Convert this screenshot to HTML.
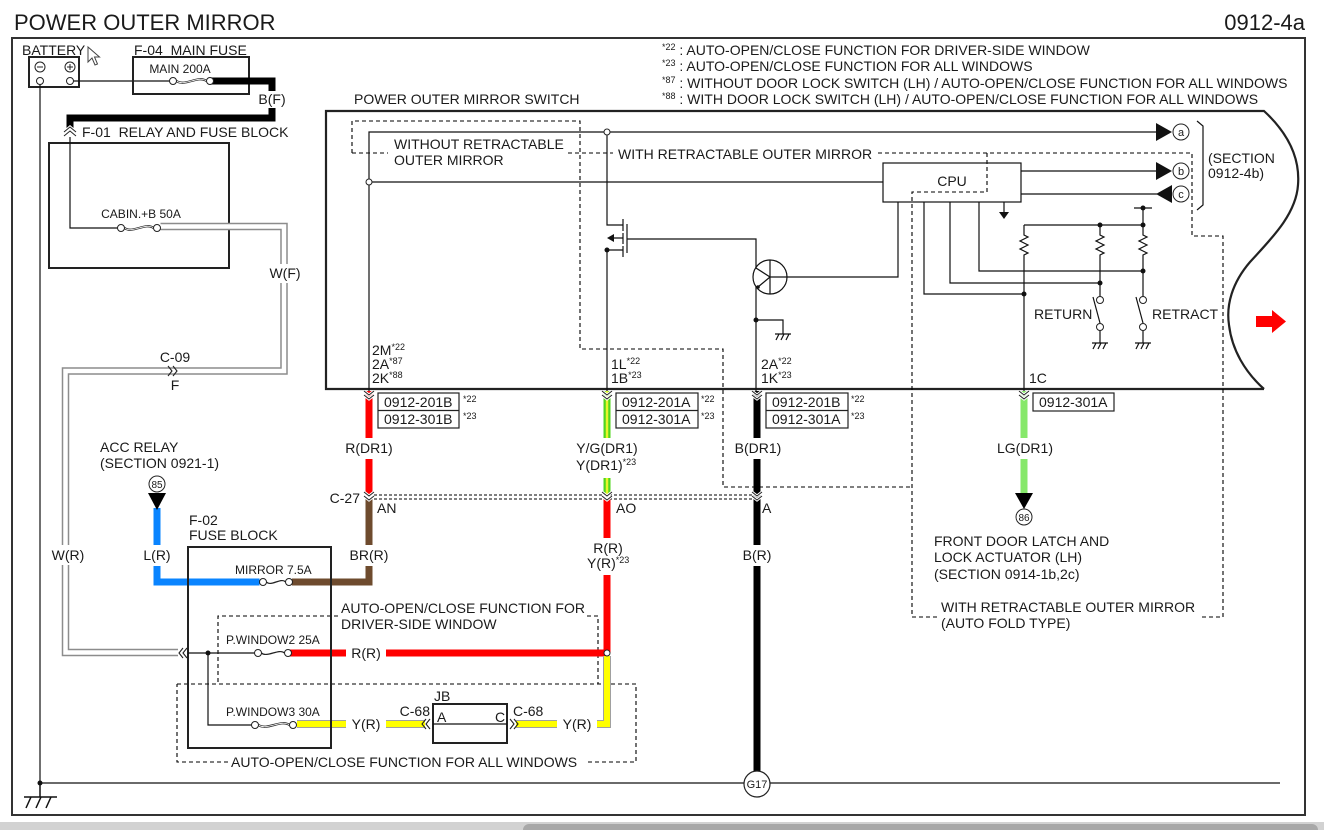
<!DOCTYPE html>
<html><head><meta charset="utf-8"><style>
html,body{margin:0;padding:0;background:#fff;}
svg{display:block;}
text{font-family:"Liberation Sans",Arial,sans-serif;fill:#1a1a1a;}
</style></head><body>
<svg width="1324" height="830" viewBox="0 0 1324 830" xmlns="http://www.w3.org/2000/svg">
<defs>
<g id="chd"><path d="M-5,0 L0,4 L5,0 M-5,4 L0,8 L5,4" stroke="#fff" stroke-width="3" fill="none"/><path d="M-5,0 L0,4 L5,0 M-5,4 L0,8 L5,4" stroke="#222" stroke-width="1" fill="none"/></g>
<g id="gnd"><path d="M-8,0 H8 M-4,0 L-7,6 M1,0 L-2,6 M6,0 L3,6" stroke="#111" stroke-width="1.2" fill="none"/></g>
</defs>
<rect width="1324" height="830" fill="#fff"/>
<rect x="0" y="822" width="1324" height="8" fill="#d2d2d2"/>
<rect x="523" y="824" width="795" height="12" rx="6" fill="#a8a8a8"/>

<text x="14" y="30" font-size="22">POWER OUTER MIRROR</text>
<text x="1305" y="30" font-size="22" text-anchor="end">0912-4a</text>
<rect x="12" y="38" width="1293" height="777" fill="none" stroke="#333" stroke-width="2"/>

<!-- notes -->
<g font-size="14">
<text x="662" y="55"><tspan font-size="9" dy="-5">*22</tspan><tspan dy="5"> : AUTO-OPEN/CLOSE FUNCTION FOR DRIVER-SIDE WINDOW</tspan></text>
<text x="662" y="71"><tspan font-size="9" dy="-5">*23</tspan><tspan dy="5"> : AUTO-OPEN/CLOSE FUNCTION FOR ALL WINDOWS</tspan></text>
<text x="662" y="88"><tspan font-size="9" dy="-5">*87</tspan><tspan dy="5"> : WITHOUT DOOR LOCK SWITCH (LH) / AUTO-OPEN/CLOSE FUNCTION FOR ALL WINDOWS</tspan></text>
<text x="662" y="104"><tspan font-size="9" dy="-5">*88</tspan><tspan dy="5"> : WITH DOOR LOCK SWITCH (LH) / AUTO-OPEN/CLOSE FUNCTION FOR ALL WINDOWS</tspan></text>
</g>

<!-- battery -->
<text x="22" y="55" font-size="14">BATTERY</text>
<rect x="29" y="57" width="50" height="30" fill="none" stroke="#222" stroke-width="2"/>
<circle cx="40" cy="67" r="5" fill="none" stroke="#222"/><path d="M37,67 H43" stroke="#222"/>
<circle cx="70" cy="67" r="5" fill="none" stroke="#222"/><path d="M67,67 H73 M70,64 V70" stroke="#222"/>
<polygon points="88,47 88,62 92,58 95,65 97.5,64 94.5,57 99.5,57" fill="#fff" stroke="#444" stroke-width="1"/>
<path d="M40,84.5 V783" stroke="#111" stroke-width="1.2"/>
<path d="M73.5,81 H169.5" stroke="#111" stroke-width="1.2"/>
<circle cx="40" cy="81" r="3.5" fill="#fff" stroke="#222"/>
<circle cx="70" cy="81" r="3.5" fill="#fff" stroke="#222"/>

<!-- F-04 -->
<text x="134" y="55" font-size="14" xml:space="preserve">F-04  MAIN FUSE</text>
<rect x="133" y="57" width="116" height="37" fill="none" stroke="#222" stroke-width="2"/>
<text x="180" y="73" font-size="12" text-anchor="middle">MAIN 200A</text>
<path d="M210,81 H272 V118 H70 V128" stroke="#000" stroke-width="7" fill="none"/>
<rect x="262" y="91" width="20" height="17" fill="#fff"/>
<text x="272" y="104" font-size="14" text-anchor="middle">B(F)</text>
<path d="M176.5,81 C185,87 198,75 206.5,81" stroke="#222" stroke-width="2.2" fill="none"/>
<path d="M176.5,81 C185,87 198,75 206.5,81" stroke="#fff" stroke-width="0.8" fill="none"/>
<circle cx="173" cy="81" r="3.5" fill="#fff" stroke="#222"/>
<circle cx="210" cy="81" r="3.5" fill="#fff" stroke="#222"/>

<!-- F-01 -->
<path d="M64,132 L70,127 L76,132 M64,136 L70,131 L76,136" stroke="#fff" stroke-width="3" fill="none"/>
<path d="M64,132 L70,127 L76,132 M64,136 L70,131 L76,136" stroke="#222" stroke-width="1" fill="none"/>
<text x="82" y="137" font-size="14" xml:space="preserve">F-01  RELAY AND FUSE BLOCK</text>
<rect x="49" y="143" width="180" height="125" fill="none" stroke="#222" stroke-width="2"/>
<path d="M70,137 V228 H117.5" stroke="#111" stroke-width="1.2" fill="none"/>
<text x="141" y="218" font-size="12" text-anchor="middle">CABIN.+B 50A</text>
<path d="M124.5,228 C132,234 146,222 153.5,228" stroke="#222" stroke-width="2.2" fill="none"/>
<path d="M124.5,228 C132,234 146,222 153.5,228" stroke="#fff" stroke-width="0.8" fill="none"/>

<!-- W wire -->
<path d="M160.5,226.5 H284 V371 H65.5 V652.5 H178" stroke="#8c8c8c" stroke-width="7.5" fill="none"/>
<path d="M160.5,226.5 H284 V371 H65.5 V652.5 H178" stroke="#fff" stroke-width="4.5" fill="none"/>
<circle cx="121" cy="228" r="3.5" fill="#fff" stroke="#222"/>
<circle cx="157" cy="228" r="3.5" fill="#fff" stroke="#222"/>
<rect x="278" y="264" width="13" height="19" fill="#fff"/>
<text x="285" y="278" font-size="14" text-anchor="middle">W(F)</text>
<rect x="59" y="545" width="13" height="20" fill="#fff"/>
<text x="68" y="560" font-size="14" text-anchor="middle">W(R)</text>
<text x="175" y="362" font-size="14" text-anchor="middle">C-09</text>
<text x="175" y="390" font-size="14" text-anchor="middle">F</text>
<path d="M168,366 L172,371 L168,376 M173,366 L177,371 L173,376" stroke="#222" stroke-width="1.1" fill="none"/>

<!-- switch -->
<text x="354" y="104" font-size="14">POWER OUTER MIRROR SWITCH</text>
<path d="M1264,389 H326 V111 H1264 C1290,135 1300,160 1298,185 C1296,215 1270,240 1250,262 C1232,283 1226,305 1229,325 C1232,350 1245,372 1264,389" fill="none" stroke="#222" stroke-width="2.2"/>

<g stroke="#000" stroke-width="1.1" fill="none" stroke-dasharray="4,3">
<path d="M352,153 V121 H580 V349 H723 V487 H913"/>
<path d="M352,153 H388"/>
<path d="M568,153 H613"/>
<path d="M878,153 H1192 V236 H1223 V617 H1201"/>
<path d="M987,153 V192 H912 V617 H937"/>
<path d="M338,616 H218 V684"/>
<path d="M587,616 H598 V684"/>
<path d="M177,684 H636 V762 H585"/>
<path d="M228,762 H177 V684"/>
</g>
<text x="394" y="149" font-size="14">WITHOUT RETRACTABLE</text>
<text x="394" y="165" font-size="14">OUTER MIRROR</text>
<text x="618" y="159" font-size="14">WITH RETRACTABLE OUTER MIRROR</text>

<g stroke="#111" stroke-width="1.2" fill="none">
<path d="M369,391 V132 H1157"/>
<path d="M369,182 H883"/>
<path d="M607,135.5 V225 H623"/>
<path d="M623,219 V231 M623,233 V244 M623,246 V257"/>
<path d="M627,224 V253 M627,239 H756 V268 L770,277"/>
<path d="M607,250 H623 M612,238 H623"/>
<path d="M607,250 V391"/>
<path d="M770,260 V294 M770,277 H898 V202 M770,277 L758,287 M756,287 V391"/>
<path d="M756,320 H783 V334"/>
<path d="M924,202 V294 H1024 M950,202 V283 H1100 M979,202 V271 H1143 M1004,202 V212"/>
<path d="M1024,225 H1143 M1024,225 V235 l4,2 l-8,4 l8,4 l-8,4 l8,4 l-4,2 V391"/>
<path d="M1100,225 V235 l4,2 l-8,4 l8,4 l-8,4 l8,4 l-4,2 V296.5"/>
<path d="M1134,208 H1152 M1143,208 V235 l4,2 l-8,4 l8,4 l-8,4 l8,4 l-4,2 V296.5"/>
<path d="M1093,297 L1100,323 M1136,297 L1143,323"/>
<path d="M1100,330.5 V343 M1143,330.5 V343"/>
<path d="M1021,171 H1157 M1021,194 H1157"/>
<path d="M1197,121 L1203,126 V205 L1197,210"/>
</g>
<polygon points="607,238 614,234 614,242" fill="#111"/>
<circle cx="607" cy="250" r="2.5" fill="#111"/>
<circle cx="758" cy="287" r="1.8" fill="#111"/>
<circle cx="770" cy="277" r="17" fill="none" stroke="#111" stroke-width="1.2"/>
<circle cx="756" cy="320" r="2.5" fill="#111"/>
<use href="#gnd" x="783" y="334"/>
<circle cx="369" cy="182" r="3" fill="#fff" stroke="#222"/>
<circle cx="607" cy="132" r="3" fill="#fff" stroke="#222"/>

<rect x="883" y="163" width="138" height="39" fill="none" stroke="#111" stroke-width="1.2"/>
<text x="952" y="186" font-size="14" text-anchor="middle">CPU</text>
<polygon points="999,212 1009,212 1004,219" fill="#111"/>
<polygon points="1156,123 1172,132 1156,141" fill="#111"/>
<polygon points="1156,162 1172,171 1156,180" fill="#111"/>
<polygon points="1172,185 1172,203 1156,194" fill="#111"/>
<g font-size="11" text-anchor="middle">
<circle cx="1181" cy="132" r="8" fill="#fff" stroke="#222"/><text x="1181" y="136">a</text>
<circle cx="1181" cy="171" r="8" fill="#fff" stroke="#222"/><text x="1181" y="175">b</text>
<circle cx="1181" cy="194" r="8" fill="#fff" stroke="#222"/><text x="1181" y="198">c</text>
</g>
<text x="1208" y="163" font-size="14">(SECTION</text>
<text x="1208" y="178" font-size="14">0912-4b)</text>
<g fill="#111">
<circle cx="1024" cy="294" r="2.5"/><circle cx="1100" cy="283" r="2.5"/><circle cx="1143" cy="271" r="2.5"/>
<circle cx="1100" cy="225" r="2.5"/><circle cx="1143" cy="225" r="2.5"/><circle cx="1143" cy="208" r="2.5"/>
</g>
<circle cx="1100" cy="300" r="3.5" fill="#fff" stroke="#222"/>
<circle cx="1100" cy="327" r="3.5" fill="#fff" stroke="#222"/>
<circle cx="1143" cy="300" r="3.5" fill="#fff" stroke="#222"/>
<circle cx="1143" cy="327" r="3.5" fill="#fff" stroke="#222"/>
<use href="#gnd" x="1100" y="343"/>
<use href="#gnd" x="1143" y="343"/>
<text x="1034" y="319" font-size="14">RETURN</text>
<text x="1152" y="319" font-size="14">RETRACT</text>
<text x="1029" y="383" font-size="14">1C</text>
<polygon points="1256,316 1272,316 1272,310 1286,321.5 1272,333 1272,327 1256,327" fill="#f00"/>

<!-- pin labels -->
<g font-size="14">
<text x="372" y="355">2M<tspan font-size="9" dy="-5">*22</tspan></text>
<text x="372" y="369">2A<tspan font-size="9" dy="-5">*87</tspan></text>
<text x="372" y="383">2K<tspan font-size="9" dy="-5">*88</tspan></text>
<text x="611" y="369">1L<tspan font-size="9" dy="-5">*22</tspan></text>
<text x="611" y="383">1B<tspan font-size="9" dy="-5">*23</tspan></text>
<text x="761" y="369">2A<tspan font-size="9" dy="-5">*22</tspan></text>
<text x="761" y="383">1K<tspan font-size="9" dy="-5">*23</tspan></text>
</g>

<!-- colored wires -->
<path d="M369,391 V495" stroke="#f00" stroke-width="7" fill="none"/>
<path d="M369,499 V582 H292" stroke="#6e4b2e" stroke-width="7" fill="none"/>
<path d="M157,508 V582 H259.5" stroke="#0a84ff" stroke-width="7" fill="none"/>
<path d="M607,391 V495" stroke="#4fd61e" stroke-width="7" fill="none"/>
<path d="M607,391 V495" stroke="#e8f52a" stroke-width="2.5" fill="none"/>
<path d="M607,499 V653 M288,653 H607" stroke="#f00" stroke-width="7" fill="none"/>
<path d="M607,656 V724 H516 M425,724 H297" stroke="#a0a0a0" stroke-width="8" fill="none"/>
<path d="M607,656 V724 H516 M425,724 H297" stroke="#ffff00" stroke-width="6" fill="none"/>
<path d="M757,391 V771" stroke="#000" stroke-width="7" fill="none"/>
<path d="M1024,391 V494" stroke="#86e86a" stroke-width="7" fill="none"/>
<polygon points="1015,493 1033,493 1024,509" fill="#000"/>
<circle cx="1024" cy="517" r="8" fill="#fff" stroke="#222"/>
<text x="1024" y="521" font-size="10" text-anchor="middle">86</text>

<!-- gaps -->
<g fill="#fff">
<rect x="362" y="438" width="14" height="21"/><rect x="362" y="545" width="14" height="21"/>
<rect x="600" y="438" width="14" height="40"/><rect x="600" y="538" width="14" height="37"/>
<rect x="750" y="438" width="14" height="21"/><rect x="750" y="545" width="14" height="21"/>
<rect x="1017" y="438" width="14" height="21"/><rect x="150" y="545" width="14" height="21"/>
<rect x="346" y="648" width="40" height="11"/>
<rect x="346" y="718" width="40" height="12"/><rect x="557" y="718" width="40" height="12"/>
</g>
<g font-size="14" text-anchor="middle">
<text x="369" y="453">R(DR1)</text>
<text x="369" y="560">BR(R)</text>
<text x="607" y="453">Y/G(DR1)</text>
<text x="608" y="553">R(R)</text>
<text x="758" y="453">B(DR1)</text>
<text x="757" y="560">B(R)</text>
<text x="1025" y="453">LG(DR1)</text>
<text x="157" y="560">L(R)</text>
<text x="366" y="658">R(R)</text>
<text x="366" y="729">Y(R)</text>
<text x="577" y="729">Y(R)</text>
</g>
<text x="576" y="470" font-size="14">Y(DR1)<tspan font-size="9" dy="-5">*23</tspan></text>
<text x="587" y="568" font-size="14">Y(R)<tspan font-size="9" dy="-5">*23</tspan></text>

<!-- connector chevrons -->
<use href="#chd" x="369" y="391"/><use href="#chd" x="607" y="391"/><use href="#chd" x="757" y="391"/><use href="#chd" x="1024" y="391"/>
<path d="M374,495 H752 M374,499 H752" stroke="#000" stroke-width="1" stroke-dasharray="3,2" fill="none"/>
<use href="#chd" x="369" y="492"/><use href="#chd" x="607" y="492"/><use href="#chd" x="757" y="492"/>
<text x="360" y="503" font-size="14" text-anchor="end">C-27</text>
<text x="377" y="513" font-size="14">AN</text>
<text x="616" y="513" font-size="14">AO</text>
<text x="762" y="513" font-size="14">A</text>

<!-- connector boxes -->
<g fill="none" stroke="#222" stroke-width="1.2">
<rect x="378" y="393" width="81" height="35"/><path d="M378,410.5 H459"/>
<rect x="616" y="393" width="82" height="35"/><path d="M616,410.5 H698"/>
<rect x="766" y="393" width="82" height="35"/><path d="M766,410.5 H848"/>
<rect x="1033" y="393" width="81" height="18"/>
</g>
<g font-size="14">
<text x="384" y="407">0912-201B</text><text x="384" y="424">0912-301B</text>
<text x="622" y="407">0912-201A</text><text x="622" y="424">0912-301A</text>
<text x="772" y="407">0912-201B</text><text x="772" y="424">0912-301A</text>
<text x="1039" y="407">0912-301A</text>
</g>
<g font-size="9">
<text x="463" y="402">*22</text><text x="463" y="419">*23</text>
<text x="701" y="402">*22</text><text x="701" y="419">*23</text>
<text x="851" y="402">*22</text><text x="851" y="419">*23</text>
</g>

<!-- ACC relay -->
<text x="100" y="452" font-size="14">ACC RELAY</text>
<text x="100" y="468" font-size="14">(SECTION 0921-1)</text>
<circle cx="157" cy="484" r="8" fill="#fff" stroke="#222"/>
<text x="157" y="488" font-size="10" text-anchor="middle">85</text>
<polygon points="148,493 166,493 157,510" fill="#000"/>

<!-- F-02 -->
<text x="189" y="525" font-size="14">F-02</text>
<text x="189" y="540" font-size="14">FUSE BLOCK</text>
<rect x="188" y="547" width="143" height="201" fill="none" stroke="#222" stroke-width="2"/>
<text x="235" y="574" font-size="12">MIRROR 7.5A</text>
<path d="M266.5,582 C271,587 281,577 285.5,582" stroke="#222" stroke-width="1.2" fill="none"/>
<circle cx="263" cy="582" r="3.5" fill="#fff" stroke="#222"/>
<circle cx="289" cy="582" r="3.5" fill="#fff" stroke="#222"/>

<path d="M183,648 L179,653 L183,658 M187,648 L183,653 L187,658" stroke="#222" stroke-width="1.1" fill="none"/>
<path d="M188,653 H254.5 M208,653 V725 H251.5" stroke="#111" stroke-width="1.2" fill="none"/>
<circle cx="208" cy="653" r="2.5" fill="#111"/>
<text x="226" y="644" font-size="12">P.WINDOW2 25A</text>
<path d="M261.5,653 C267,658 279,648 284.5,653" stroke="#222" stroke-width="1.2" fill="none"/>
<circle cx="258" cy="653" r="3.5" fill="#fff" stroke="#222"/>
<circle cx="288" cy="653" r="3.5" fill="#fff" stroke="#222"/>
<circle cx="607" cy="653" r="3" fill="#fff" stroke="#222"/>
<text x="226" y="716" font-size="12">P.WINDOW3 30A</text>
<path d="M258.5,725 C267,731 281,719 289.5,725" stroke="#222" stroke-width="2.2" fill="none"/>
<path d="M258.5,725 C267,731 281,719 289.5,725" stroke="#fff" stroke-width="0.8" fill="none"/>
<circle cx="255" cy="725" r="3.5" fill="#fff" stroke="#222"/>
<circle cx="293" cy="725" r="3.5" fill="#fff" stroke="#222"/>

<text x="341" y="613" font-size="14">AUTO-OPEN/CLOSE FUNCTION FOR</text>
<text x="341" y="629" font-size="14">DRIVER-SIDE WINDOW</text>
<text x="231" y="767" font-size="14">AUTO-OPEN/CLOSE FUNCTION FOR ALL WINDOWS</text>

<!-- JB -->
<text x="434" y="701" font-size="14">JB</text>
<rect x="433" y="704" width="74" height="39" fill="none" stroke="#222" stroke-width="2"/>
<path d="M433,724 H507" stroke="#111" stroke-width="1.2"/>
<text x="437" y="722" font-size="14">A</text>
<text x="495" y="722" font-size="14">C</text>
<text x="430" y="716" font-size="14" text-anchor="end">C-68</text>
<text x="513" y="716" font-size="14">C-68</text>
<path d="M426,719 L422,724 L426,729 M430,719 L426,724 L430,729" stroke="#222" stroke-width="1.1" fill="none"/>
<path d="M510,719 L514,724 L510,729 M514,719 L518,724 L514,729" stroke="#222" stroke-width="1.1" fill="none"/>

<!-- right texts -->
<text x="934" y="546" font-size="14">FRONT DOOR LATCH AND</text>
<text x="934" y="562" font-size="14">LOCK ACTUATOR (LH)</text>
<text x="934" y="579" font-size="14">(SECTION 0914-1b,2c)</text>
<text x="941" y="612" font-size="14">WITH RETRACTABLE OUTER MIRROR</text>
<text x="941" y="628" font-size="14">(AUTO FOLD TYPE)</text>

<!-- ground -->
<path d="M40,783 H1280" stroke="#111" stroke-width="1.2"/>
<circle cx="40" cy="783" r="2.5" fill="#111"/>
<path d="M40,783 V797 M24,797 H57 M31,797 L26,808 M41,797 L36,808 M51,797 L46,808" stroke="#111" stroke-width="1.5" fill="none"/>
<circle cx="757" cy="784" r="13" fill="#fff" stroke="#222" stroke-width="1.2"/>
<text x="757" y="788" font-size="11" text-anchor="middle">G17</text>
</svg>
</body></html>
